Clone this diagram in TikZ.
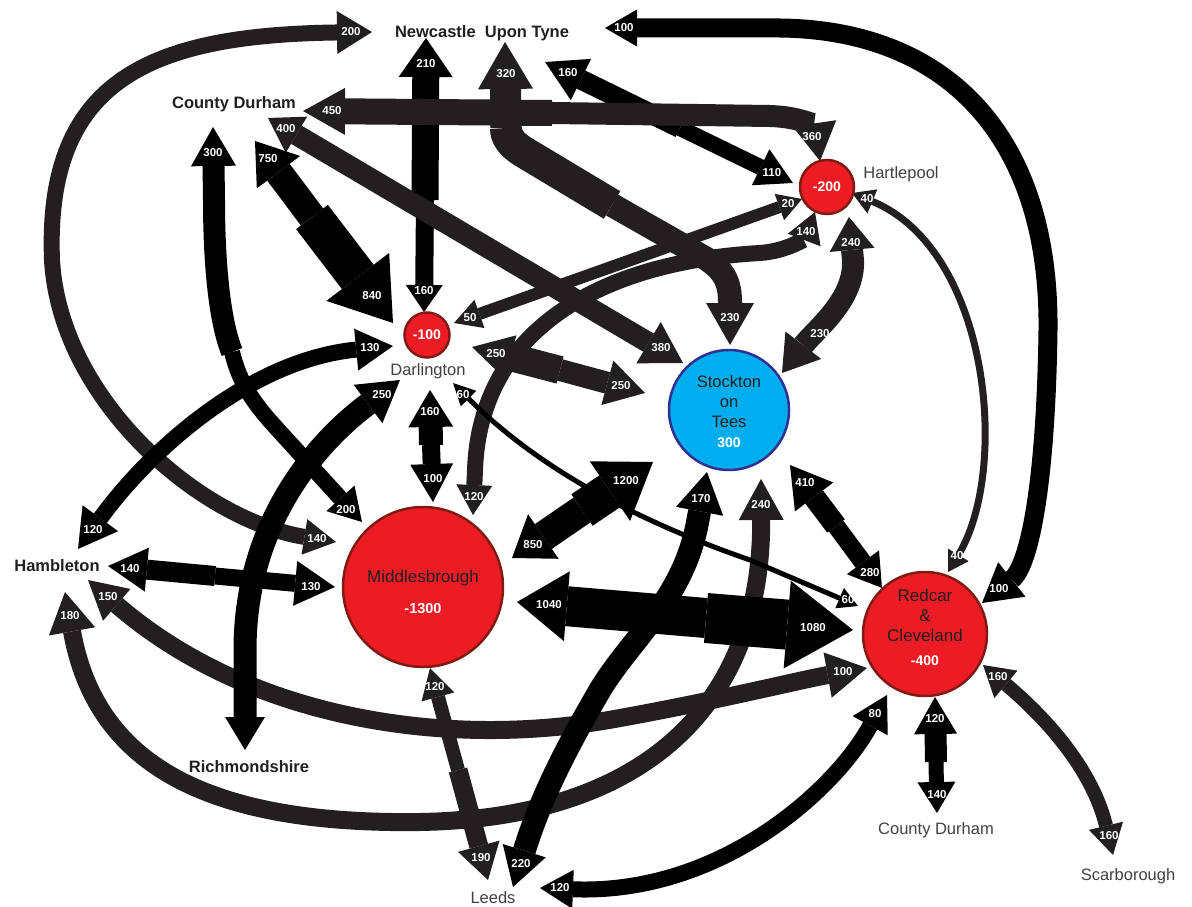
\documentclass[tikz,border=0pt]{standalone}
\usepackage{fontspec}
\setmainfont{Liberation Sans}
\usepackage{xcolor}
\usetikzlibrary{arrows.meta}

\definecolor{flowgrey}{RGB}{35,31,32}
\definecolor{townred}{RGB}{237,28,36}
\definecolor{townrim}{RGB}{128,26,18}
\definecolor{towncyan}{RGB}{0,174,239}
\definecolor{cyanrim}{RGB}{46,49,146}
\definecolor{inkdark}{RGB}{35,31,32}
\definecolor{inkgrey}{RGB}{65,64,66}

\begin{document}
\begin{tikzpicture}[x=1pt, y=-1pt,
  town/.style={circle, inner sep=0pt, line width=2.5pt, align=center},
  redtown/.style={town, fill=townred, draw=townrim},
  place/.style={font=\fontsize{16.5}{18}\selectfont\bfseries, text=inkdark, inner sep=0pt, anchor=base},
  placelt/.style={font=\fontsize{16.5}{18}\selectfont, text=inkgrey, inner sep=0pt, anchor=base},
  num/.style={font=\fontsize{11.5}{12}\selectfont\bfseries, text=white, inner sep=0pt},
  fk/.style={draw=black, line width=#1pt},
  fg/.style={draw=flowgrey, line width=#1pt},
  hd/.style 2 args={arrows={-{Triangle[length=#1pt, width=#2pt, line width=0pt]}}},
  hh/.style n args={4}{arrows={{Triangle[length=#1pt, width=#2pt, line width=0pt]}-{Triangle[length=#3pt, width=#4pt, line width=0pt]}}}]

  \path[use as bounding box, fill=white] (0,0) rectangle (1192,907);

  % place names
  \node[place] (nc) at (482,38) {Newcastle\ \ Upon Tyne};
  \node[place] (cdn) at (234,108) {County Durham};
  \node[place] (hb) at (57,571) {Hambleton};
  \node[place] (ri) at (249,772) {Richmondshire};
  \node[placelt] (cds) at (936,834) {County Durham};
  \node[placelt] (sc) at (1128,880) {Scarborough};
  \node[placelt] (ld) at (493,903) {Leeds};
  \node[placelt] (hpl) at (901,178) {Hartlepool};
  \node[placelt] (darl) at (428,375) {Darlington};

  % arrow ends
  \coordinate (nc-dar) at (426,38);   \coordinate (dar-nc) at (424,312);  \coordinate (ncdar-m) at (425,200);
  \coordinate (nc-st) at (505,42);    \coordinate (st-nc) at (730,345);   \coordinate (ncst-m) at (506,128);
  \coordinate (ncst-k) at (612,205);
  \coordinate (cd-hp) at (303,111);   \coordinate (hp-cd) at (820,161);   \coordinate (cdhp-m) at (552,113);
  \coordinate (nc-hp) at (545,62);    \coordinate (hp-nc) at (793,183);   \coordinate (nchp-m) at (680,128);
  \coordinate (nc-rc) at (605,28);    \coordinate (rc-nc) at (982,603);
  \coordinate (nc-md) at (372,32);    \coordinate (md-nc) at (336,542);
  \coordinate (cd-md) at (213,127);   \coordinate (md-cd) at (362,522);   \coordinate (cdmd-m) at (232,352);
  \coordinate (cd-dar) at (255,141);  \coordinate (dar-cd) at (393,323);  \coordinate (cddar-m) at (312,217);
  \coordinate (cd-st) at (268,118);   \coordinate (st-cd) at (683,363);
  \coordinate (dar-hp) at (454,323);  \coordinate (hp-dar) at (802,199);
  \coordinate (md-hp) at (473,515);   \coordinate (hp-md) at (815,212);
  \coordinate (hp-st) at (849,217);   \coordinate (st-hp) at (782,373);
  \coordinate (hp-rc) at (852,193);   \coordinate (rc-hp) at (948,572);
  \coordinate (hb-dar) at (78,549);   \coordinate (dar-hb) at (393,346);
  \coordinate (ri-dar) at (245,750);  \coordinate (dar-ri) at (400,380);
  \coordinate (dar-md) at (430,390);  \coordinate (md-dar) at (433,502);  \coordinate (darmd-m) at (431,445);
  \coordinate (dar-st) at (472,347);  \coordinate (st-dar) at (645,393);  \coordinate (darst-m) at (560,370);
  \coordinate (dar-rc) at (453,383);  \coordinate (rc-dar) at (858,606);
  \coordinate (st-md) at (653,462);   \coordinate (md-st) at (512,558);   \coordinate (mdst-m) at (582,510);
  \coordinate (md-rc) at (517,602);   \coordinate (rc-md) at (853,630);   \coordinate (mdrc-m) at (706,618);
  \coordinate (st-rc) at (790,465);   \coordinate (rc-st) at (882,588);   \coordinate (strc-m) at (836,526);
  \coordinate (hb-md) at (108,566);   \coordinate (md-hb) at (335,587);   \coordinate (hbmd-m) at (215,576);
  \coordinate (hb-rc) at (88,580);    \coordinate (rc-hb) at (867,668);
  \coordinate (hb-st) at (65,592);    \coordinate (st-hb) at (761,479);
  \coordinate (st-ld) at (707,472);   \coordinate (ld-st) at (513,887);
  \coordinate (md-ld) at (430,668);   \coordinate (ld-md) at (488,880);   \coordinate (mdld-m) at (458,770);
  \coordinate (ld-rc) at (540,888);   \coordinate (rc-ld) at (887,695);
  \coordinate (rc-cd) at (935,697);   \coordinate (cd-rc) at (937,813);   \coordinate (rccd-m) at (936,762);
  \coordinate (rc-sc) at (983,665);   \coordinate (sc-rc) at (1113,855);

  % flows
  \draw[fg=16, hh={32}{36}{35}{43}] (md-nc) .. controls (200,520) and (60,400) .. (52,260)
    .. controls (45,80) and (150,35) .. (nc-md);
  \draw[fk=19, hh={32}{37}{38}{44}] (nc-rc) -- (780,28) .. controls (950,30) and (1050,140) .. (1048,330)
    .. controls (1046,480) and (1030,565) .. (rc-nc);
  \draw[fk=27, hd={39}{54}] (ncdar-m) -- (nc-dar);
  \draw[fk=18, hd={27}{37}] (ncdar-m) -- (dar-nc);
  \draw[fk=20, hd={40}{46}] (nchp-m) -- (nc-hp);
  \draw[fk=16, hd={36}{40}] (nchp-m) -- (hp-nc);
  \draw[fg=21, hh={33}{42}{40}{48}] (cd-st) -- (st-cd);
  \draw[fg=31, hd={47}{55}] (ncst-m) -- (nc-st);
  \draw[fg=32] (ncst-m) .. controls (506,136) and (510,143) .. (522,151) -- (ncst-k);
  \draw[fg=24, hd={42}{48}] (ncst-k) -- (705,258) .. controls (724,270) and (730,282) .. (730,302) -- (st-nc);
  \draw[fg=26, hd={42}{47}] (cdhp-m) -- (cd-hp);
  \draw[fg=22, hd={38}{44}] (cdhp-m) -- (770,116) .. controls (802,117) and (815,127) .. (hp-cd);
  \draw[fk=22, hd={39}{45}] (cdmd-m) .. controls (219,320) and (214,260) .. (214,200) -- (cd-md);
  \draw[fk=16, hd={32}{38}] (cdmd-m) .. controls (240,385) and (255,405) .. (280,432) -- (md-cd);
  \draw[fk=28, hd={39}{54}] (cddar-m) -- (cd-dar);
  \draw[fk=40, hd={58}{79}] (cddar-m) -- (dar-cd);
  \draw[fg=12, hh={27}{30}{24}{28}] (dar-hp) -- (hp-dar);
  \draw[fg=16, hh={30}{36}{30}{35}] (md-hp) -- (475,470) .. controls (480,330) and (600,262) .. (760,253)
    .. controls (788,251) and (805,238) .. (hp-md);
  \draw[fg=22, hh={33}{45}{35}{45}] (hp-st) -- (853,260) .. controls (855,300) and (815,330) .. (st-hp);
  \draw[fg=7, hh={22}{26}{20}{24}] (hp-rc) .. controls (990,250) and (1010,470) .. (rc-hp);
  \draw[fk=16, hh={38}{44}{37}{42}] (hb-dar) .. controls (150,450) and (250,360) .. (dar-hb);
  \draw[fg=18, hh={38}{42}{40}{46}] (hb-rc) .. controls (250,720) and (450,750) .. (620,718)
    .. controls (720,700) and (800,680) .. (rc-hb);
  \draw[fg=18, hh={40}{47}{41}{45}] (hb-st) .. controls (95,760) and (200,825) .. (420,822)
    .. controls (650,818) and (762,700) .. (st-hb);
  \draw[fk=23, hh={33}{40}{40}{48}] (ri-dar) -- (245,650) .. controls (245,520) and (320,440) .. (dar-ri);
  \draw[fk=24, hd={37}{45}] (darmd-m) -- (dar-md);
  \draw[fk=18, hd={38}{43}] (darmd-m) -- (md-dar);
  \draw[fg=28, hd={40}{45}] (darst-m) -- (dar-st);
  \draw[fg=22, hd={39}{46}] (darst-m) -- (st-dar);
  \draw[fk=20, hd={39}{44}] (hbmd-m) -- (hb-md);
  \draw[fk=17, hd={40}{45}] (hbmd-m) -- (md-hb);
  \draw[fg=14, hd={30}{34}] (mdld-m) -- (md-ld);
  \draw[fg=19, hd={35}{43}] (mdld-m) -- (ld-md);
  \draw[fk=23, hh={40}{48}{38}{45}] (st-ld) -- (697,525) .. controls (682,600) and (630,640) .. (600,690)
    .. controls (565,750) and (540,800) .. (ld-st);
  \draw[fk=5, hh={22}{22}{20}{22}] (dar-rc) .. controls (530,460) and (620,515) .. (750,560) -- (rc-dar);
  \draw[fk=38, hd={52}{72}] (mdst-m) -- (st-md);
  \draw[fk=30, hd={38}{54}] (mdst-m) -- (md-st);
  \draw[fk=40, hd={50}{70}] (mdrc-m) -- (md-rc);
  \draw[fk=50, hd={66}{88}] (mdrc-m) -- (rc-md);
  \draw[fk=22, hd={40}{48}] (strc-m) -- (st-rc);
  \draw[fk=18, hd={32}{40}] (strc-m) -- (rc-st);
  \draw[fk=16, hh={33}{39}{35}{40}] (ld-rc) .. controls (720,895) and (835,790) .. (rc-ld);
  \draw[fk=22, hd={37}{43}] (rccd-m) -- (rc-cd);
  \draw[fk=15, hd={31}{38}] (rccd-m) -- (cd-rc);
  \draw[fg=14, hh={30}{36}{30}{35}] (rc-sc) .. controls (1060,730) and (1095,780) .. (sc-rc);

  % towns
  \node[redtown, minimum size=54pt, font=\fontsize{14}{16}\selectfont\bfseries, text=white] (hp) at (827,187) {-200};
  \node[redtown, minimum size=45pt, font=\fontsize{14}{16}\selectfont\bfseries, text=white] (dar) at (427,335) {-100};
  \node[town, fill=towncyan, draw=cyanrim, minimum size=120pt, font=\fontsize{16.5}{20}\selectfont, text=inkdark] (st) at (729,410)
    {\rule{0pt}{16pt}Stockton\\on\\Tees\\{\fontsize{14}{20}\selectfont\bfseries\color{white}300}};
  \node[redtown, minimum size=160pt, font=\fontsize{17}{18}\selectfont, text=inkdark] (md) at (423,587)
    {\rule{0pt}{23pt}Middlesbrough\\[13pt]{\fontsize{14.5}{18}\selectfont\bfseries\color{white}-1300}};
  \node[redtown, minimum size=124pt, font=\fontsize{17}{20}\selectfont, text=inkdark] (rc) at (925,634)
    {Redcar\\\&\\Cleveland\\[4pt]{\fontsize{14}{20}\selectfont\bfseries\color{white}-400}\rule[-13pt]{0pt}{13pt}};

  % flow values
  \node[num] (v-nc-dar) at (426,64) {210};
  \node[num] (v-dar-nc) at (424,291) {160};
  \node[num] (v-nc-st) at (506,74) {320};
  \node[num] (v-st-nc) at (730,318) {230};
  \node[num] (v-cd-hp) at (332,111) {450};
  \node[num] (v-hp-cd) at (812,137) {360};
  \node[num] (v-nc-hp) at (568,73) {160};
  \node[num] (v-hp-nc) at (772,173) {110};
  \node[num] (v-nc-rc) at (624,28) {100};
  \node[num] (v-rc-nc) at (999,589) {100};
  \node[num] (v-md-nc) at (317,539) {140};
  \node[num] (v-nc-md) at (351,32) {200};
  \node[num] (v-cd-md) at (213,153) {300};
  \node[num] (v-md-cd) at (346,510) {200};
  \node[num] (v-cd-dar) at (268,159) {750};
  \node[num] (v-dar-cd) at (372,296) {840};
  \node[num] (v-cd-st) at (286,129) {400};
  \node[num] (v-st-cd) at (661,348) {380};
  \node[num] (v-dar-hp) at (470,318) {50};
  \node[num] (v-hp-dar) at (788,204) {20};
  \node[num] (v-md-hp) at (474,497) {120};
  \node[num] (v-hp-md) at (806,232) {140};
  \node[num] (v-hp-st) at (851,243) {240};
  \node[num] (v-st-hp) at (820,334) {230};
  \node[num] (v-hp-rc) at (867,199) {40};
  \node[num] (v-rc-hp) at (957,556) {40};
  \node[num] (v-hb-dar) at (93,530) {120};
  \node[num] (v-dar-hb) at (370,348) {130};
  \node[num] (v-dar-ri) at (382,395) {250};
  \node[num] (v-dar-md) at (430,412) {160};
  \node[num] (v-md-dar) at (433,479) {100};
  \node[num] (v-dar-st) at (496,354) {250};
  \node[num] (v-st-dar) at (621,386) {250};
  \node[num] (v-dar-rc) at (463,395) {60};
  \node[num] (v-rc-dar) at (848,600) {60};
  \node[num] (v-st-md) at (626,481) {1200};
  \node[num] (v-md-st) at (533,545) {850};
  \node[num] (v-md-rc) at (549,605) {1040};
  \node[num] (v-rc-md) at (813,628) {1080};
  \node[num] (v-st-rc) at (805,483) {410};
  \node[num] (v-rc-st) at (870,573) {280};
  \node[num] (v-hb-md) at (130,569) {140};
  \node[num] (v-md-hb) at (311,587) {130};
  \node[num] (v-hb-rc) at (108,597) {150};
  \node[num] (v-rc-hb) at (843,672) {100};
  \node[num] (v-hb-st) at (70,616) {180};
  \node[num] (v-st-hb) at (761,505) {240};
  \node[num] (v-st-ld) at (701,499) {170};
  \node[num] (v-ld-st) at (521,864) {220};
  \node[num] (v-md-ld) at (435,687) {120};
  \node[num] (v-ld-md) at (481,858) {190};
  \node[num] (v-ld-rc) at (560,888) {120};
  \node[num] (v-rc-ld) at (875,714) {80};
  \node[num] (v-rc-cd) at (935,719) {120};
  \node[num] (v-cd-rc) at (937,795) {140};
  \node[num] (v-rc-sc) at (998,677) {160};
  \node[num] (v-sc-rc) at (1109,836) {160};
\end{tikzpicture}
\end{document}
